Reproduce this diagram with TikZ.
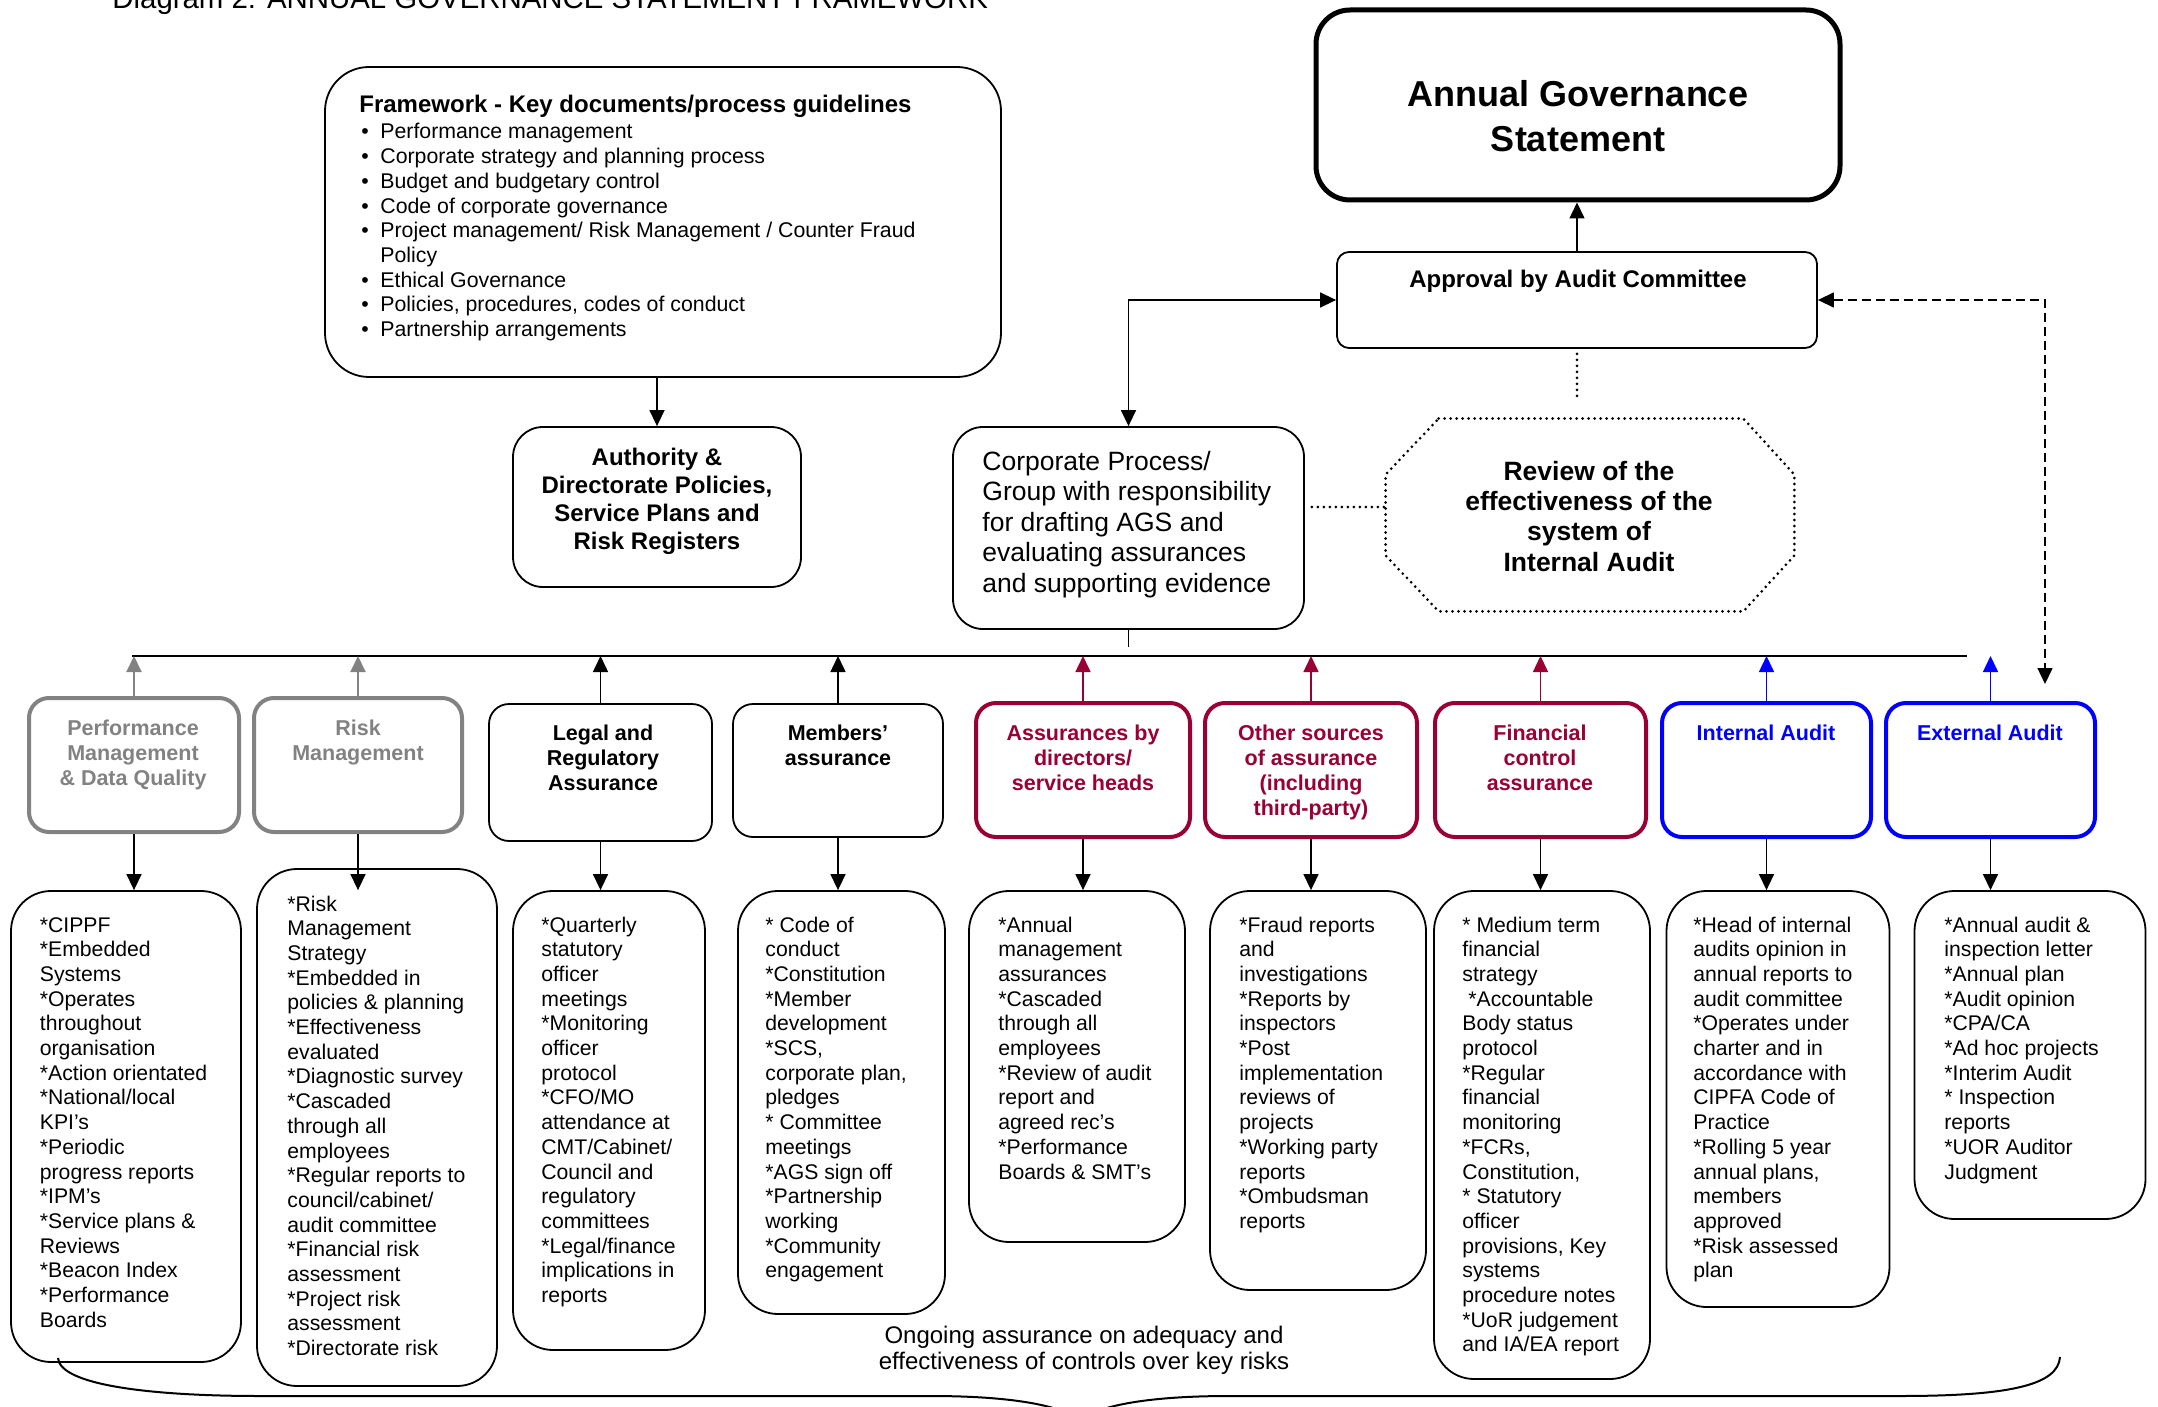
\documentclass[tikz,border=0pt]{standalone}
\usepackage{fontspec}
\setmainfont{Liberation Sans}
\usetikzlibrary{arrows.meta,positioning}

\definecolor{agsred}{HTML}{990033}
\definecolor{agsgrey}{HTML}{828282}
\definecolor{agsblue}{HTML}{0000FF}

\tikzset{
	roundbox/.style={draw, line width=0.9pt, rounded corners=20pt, inner sep=0pt},
	catbox/.style={draw, line width=0.9pt, rounded corners=10pt, minimum height=67pt, inner sep=0pt},
	greybox/.style={catbox, draw=agsgrey, line width=2pt},
	redbox/.style={catbox, draw=agsred, line width=2pt},
	bluebox/.style={catbox, draw=agsblue, line width=2pt},
	cattext/.style={anchor=base, align=center, inner sep=0pt, font=\bfseries\fontsize{10.75}{12.5}\selectfont},
	dettext/.style={anchor=base west, align=left, inner sep=0pt, font=\fontsize{10.6}{12.35}\selectfont},
	arr/.style={->, line width=0.75pt},
	dotline/.style={line width=1.5pt, line cap=round, dash pattern=on 0pt off 3pt},
}

\begin{document}
\begin{tikzpicture}[x=0.5pt, y=-0.5pt, >={Triangle[length=8pt,width=7.5pt]}]
	\useasboundingbox (0,0) rectangle (2158,1407);

	% Title
	\node[anchor=base west, inner sep=0pt, font=\fontsize{14.7}{17}\selectfont] (title) at (112,9) {Diagram 2: ANNUAL GOVERNANCE STATEMENT FRAMEWORK};

	% Top boxes (multi-line texts sit on their last baseline)
	\node[roundbox, rounded corners=22pt, minimum width=338pt, minimum height=155pt] (frame) at (663,222) {};
	\node[anchor=base west, inner sep=0pt, font=\bfseries\fontsize{12}{14}\selectfont] (frametitle) at (359,113) {Framework - Key documents/process guidelines};
	\node[dettext, font=\fontsize{10.65}{12.35}\selectfont] (framelist) at (361,336.6) {\makebox[9.5pt][l]{•}Performance management\\
		\makebox[9.5pt][l]{•}Corporate strategy and planning process\\
		\makebox[9.5pt][l]{•}Budget and budgetary control\\
		\makebox[9.5pt][l]{•}Code of corporate governance\\
		\makebox[9.5pt][l]{•}Project management/ Risk Management / Counter Fraud\\
		\hspace*{9.5pt}Policy\\
		\makebox[9.5pt][l]{•}Ethical Governance\\
		\makebox[9.5pt][l]{•}Policies, procedures, codes of conduct\\
		\makebox[9.5pt][l]{•}Partnership arrangements};

	\node[draw, line width=2.5pt, rounded corners=17pt, minimum width=262pt, minimum height=95pt] (ags) at (1578,105) {};
	\node[anchor=base, align=center, inner sep=0pt, font=\bfseries\fontsize{18}{22.5}\selectfont] (agstext) at (1578,152) {Annual Governance\\Statement};

	\node[roundbox, rounded corners=6pt, minimum width=240pt, minimum height=48pt] (approval) at (1577,300) {};
	\node[anchor=base, inner sep=0pt, font=\bfseries\fontsize{12}{14}\selectfont] (approvaltext) at (1578,288) {Approval by Audit Committee};

	\node[roundbox, rounded corners=15pt, minimum width=144pt, minimum height=80pt] (auth) at (657,507) {};
	\node[anchor=base, align=center, inner sep=0pt, font=\bfseries\fontsize{12}{13.85}\selectfont] (authtext) at (657,549) {Authority \&\\Directorate Policies,\\Service Plans and\\Risk Registers};

	\node[roundbox, rounded corners=15pt, minimum width=175.5pt, minimum height=101pt] (corp) at (1128.5,528) {};
	\node[anchor=base west, align=left, inner sep=0pt, font=\fontsize{13.25}{15.3}\selectfont] (corptext) at (982,592.4) {Corporate Process/\\Group with responsibility\\for drafting AGS and\\evaluating assurances\\and supporting evidence};

	\node[minimum width=204pt, minimum height=96pt, inner sep=0pt] (review) at (1590,515) {};
	\draw[dotline] ([xshift=26.5pt]review.north west) -- ([xshift=-25.5pt]review.north east)
		-- ([yshift=-28pt]review.north east) -- ([yshift=28pt]review.south east)
		-- ([xshift=-25.5pt]review.south east) -- ([xshift=26.5pt]review.south west)
		-- ([yshift=28pt]review.south west) -- ([yshift=-28pt]review.north west) -- cycle;
	\node[anchor=base, align=center, inner sep=0pt, font=\bfseries\fontsize{13.25}{15.15}\selectfont] (reviewtext) at (1589,571) {Review of the\\effectiveness of the\\system of\\Internal Audit};

	% Category boxes
	\node[greybox, minimum width=105pt] (cat1) at (134,765) {};
	\node[greybox, minimum width=104pt] (cat2) at (358,765) {};
	\node[catbox, minimum width=111.5pt, minimum height=68.5pt] (cat3) at (600.5,772.5) {};
	\node[catbox, minimum width=105pt, minimum height=66.5pt] (cat4) at (838,770.5) {};
	\node[redbox, minimum width=107pt] (cat5) at (1083,770) {};
	\node[redbox, minimum width=106pt] (cat6) at (1311,770) {};
	\node[redbox, minimum width=105.5pt] (cat7) at (1540.5,770) {};
	\node[bluebox, minimum width=104.5pt] (cat8) at (1766.5,770) {};
	\node[bluebox, minimum width=104.5pt] (cat9) at (1990.5,770) {};

	\node[cattext, text=agsgrey] (cat1text) at (133,785) {Performance\\Management\\\& Data Quality};
	\node[cattext, text=agsgrey] (cat2text) at (358,760) {Risk\\Management};
	\node[cattext] (cat3text) at (603,790) {Legal and\\Regulatory\\Assurance};
	\node[cattext] (cat4text) at (838,765) {Members’\\assurance};
	\node[cattext, text=agsred] (cat5text) at (1083,790) {Assurances by\\directors/\\service heads};
	\node[cattext, text=agsred] (cat6text) at (1311,815) {Other sources\\of assurance\\(including\\third-party)};
	\node[cattext, text=agsred] (cat7text) at (1540,790) {Financial\\control\\assurance};
	\node[cattext, text=agsblue] (cat8text) at (1766,740) {Internal Audit};
	\node[cattext, text=agsblue] (cat9text) at (1990,740) {External Audit};

	% Detail boxes
	\node[roundbox, minimum width=115pt, minimum height=235.5pt] (detA) at (126,1126.5) {};
	\node[roundbox, minimum width=120pt, minimum height=258.5pt] (detB) at (377,1127.5) {};
	\node[roundbox, minimum width=96pt, minimum height=229.5pt] (detC) at (609,1120.5) {};
	\node[roundbox, minimum width=103.5pt, minimum height=211.5pt] (detD) at (841.5,1102.5) {};
	\node[roundbox, minimum width=108pt, minimum height=175.5pt] (detE) at (1077,1066.5) {};
	\node[roundbox, minimum width=108pt, minimum height=199.5pt] (detF) at (1318,1090.5) {};
	\node[roundbox, minimum width=108pt, minimum height=244pt] (detG) at (1542,1135) {};
	\node[roundbox, minimum width=111.5pt, minimum height=208pt] (detH) at (1778,1099) {};
	\node[roundbox, minimum width=115.5pt, minimum height=164pt] (detI) at (2030,1055) {};

	\node[dettext] (detAtext) at (39.5,1327.2) {*CIPPF\\*Embedded\\Systems\\*Operates\\throughout\\organisation\\*Action orientated\\*National/local\\KPI’s\\*Periodic\\progress reports\\*IPM’s\\*Service plans \&\\Reviews\\*Beacon Index\\*Performance\\Boards};
	\node[dettext] (detBtext) at (287,1355.6) {*Risk\\Management\\Strategy\\*Embedded in\\policies \& planning\\*Effectiveness\\evaluated\\*Diagnostic survey\\*Cascaded\\through all\\employees\\*Regular reports to\\council/cabinet/\\audit committee\\*Financial risk\\assessment\\*Project risk\\assessment\\*Directorate risk};
	\node[dettext] (detCtext) at (541,1302.5) {*Quarterly\\statutory\\officer\\meetings\\*Monitoring\\officer\\protocol\\*CFO/MO\\attendance at\\CMT/Cabinet/\\Council and\\regulatory\\committees\\*Legal/finance\\implications in\\reports};
	\node[dettext] (detDtext) at (765,1277.8) {* Code of\\conduct\\*Constitution\\*Member\\development\\*SCS,\\corporate plan,\\pledges\\* Committee\\meetings\\*AGS sign off\\*Partnership\\working\\*Community\\engagement};
	\node[dettext] (detEtext) at (998,1179) {*Annual\\management\\assurances\\*Cascaded\\through all\\employees\\*Review of audit\\report and\\agreed rec’s\\*Performance\\Boards \& SMT’s};
	\node[dettext] (detFtext) at (1239,1228.4) {*Fraud reports\\and\\investigations\\*Reports by\\inspectors\\*Post\\implementation\\reviews of\\projects\\*Working party\\reports\\*Ombudsman\\reports};
	\node[dettext] (detGtext) at (1462,1351.9) {* Medium term\\financial\\strategy\\\hspace*{3pt}*Accountable\\Body status\\protocol\\*Regular\\financial\\monitoring\\*FCRs,\\Constitution,\\* Statutory\\officer\\provisions, Key\\systems\\procedure notes\\*UoR judgement\\and IA/EA report};
	\node[dettext] (detHtext) at (1693,1277.8) {*Head of internal\\audits opinion in\\annual reports to\\audit committee\\*Operates under\\charter and in\\accordance with\\CIPFA Code of\\Practice\\*Rolling 5 year\\annual plans,\\members\\approved\\*Risk assessed\\plan};
	\node[dettext] (detItext) at (1944,1179) {*Annual audit \&\\inspection letter\\*Annual plan\\*Audit opinion\\*CPA/CA\\*Ad hoc projects\\*Interim Audit\\* Inspection\\reports\\*UOR Auditor\\Judgment};

	% Bottom note
	\node[anchor=base, align=center, inner sep=0pt, font=\fontsize{12}{13}\selectfont] (ongoing) at (1084,1369) {Ongoing assurance on adequacy and\\effectiveness of controls over key risks};

	% Arrows
	\coordinate (busL) at (132,656);
	\coordinate (busR) at (1967,656);
	\coordinate (extin) at (2045,684);

	\draw[arr] (auth.north |- frame.south) -- (auth.north);
	\draw[arr] (approval.north) -- (approval.north |- ags.south);
	\draw[<->, line width=0.75pt] (corp.north) |- (approval.west);
	\draw[<->, line width=0.75pt, dash pattern=on 4.5pt off 2.5pt] (approval.east) -| (extin);
	\draw[dotline, shorten <=2.5pt, shorten >=11pt] (approval.south) -- (approval.south |- review.north);
	\draw[dotline, shorten <=3.5pt] ([yshift=10.5pt]corp.east) -- ([yshift=10.5pt]corp.east -| review.west);
	\draw[line width=0.75pt] (corp.south) -- ++(0,17);
	\draw[line width=1pt] (busL) -- (busR);

	\draw[arr, agsgrey, line width=1pt] (cat1.north) -- (cat1.north |- busL);
	\draw[arr, agsgrey, line width=1pt] (cat2.north) -- (cat2.north |- busL);
	\draw[arr] (cat3.north) -- (cat3.north |- busL);
	\draw[arr] (cat4.north) -- (cat4.north |- busL);
	\draw[arr, agsred] (cat5.north) -- (cat5.north |- busL);
	\draw[arr, agsred] (cat6.north) -- (cat6.north |- busL);
	\draw[arr, agsred] (cat7.north) -- (cat7.north |- busL);
	\draw[arr, agsblue] (cat8.north) -- (cat8.north |- busL);
	\draw[arr, agsblue] (cat9.north) -- (cat9.north |- busL);

	\draw[arr] (cat1.south) -- (cat1.south |- detA.north);
	\draw[arr] (cat2.south) -- (cat2.south |- detA.north);
	\draw[arr] (cat3.south) -- (cat3.south |- detA.north);
	\draw[arr] (cat4.south) -- (cat4.south |- detA.north);
	\draw[arr] (cat5.south) -- (cat5.south |- detA.north);
	\draw[arr] (cat6.south) -- (cat6.south |- detA.north);
	\draw[arr] (cat7.south) -- (cat7.south |- detA.north);
	\draw[arr] (cat8.south) -- (cat8.south |- detA.north);
	\draw[arr] (cat9.south) -- (cat9.south |- detA.north);

	% Brace
	\draw[line width=1pt] (58,1358) .. controls (60,1385) and (150,1396) .. (260,1396) -- (930,1396)
		.. controls (1010,1396) and (1060,1405) .. (1080,1420)
		.. controls (1100,1405) and (1150,1396) .. (1230,1396) -- (1900,1396)
		.. controls (2010,1396) and (2058,1385) .. (2060,1357);
\end{tikzpicture}
\end{document}
